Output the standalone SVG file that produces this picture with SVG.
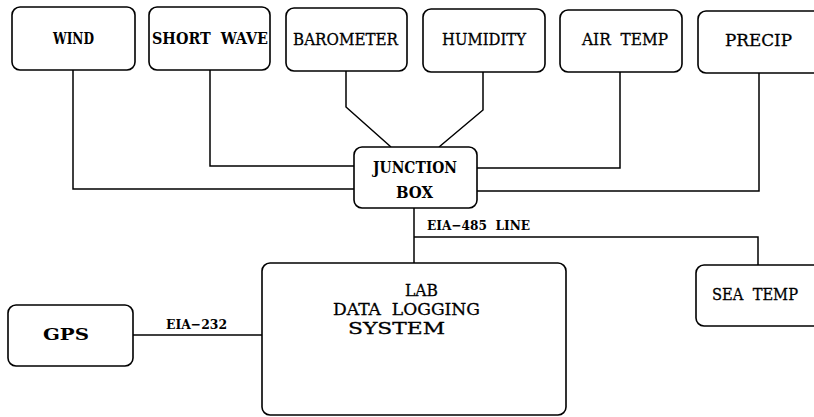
<svg xmlns="http://www.w3.org/2000/svg" width="814" height="417" viewBox="0 0 814 417">
<style>
rect{fill:#fff;stroke:#000;stroke-width:1.6}
.c{fill:none;stroke:#000;stroke-width:1.5}
text{font-family:"DejaVu Serif","Liberation Serif",serif;font-size:16.5px;fill:#000;stroke:#000;stroke-width:0.3;white-space:pre}
.b{font-weight:bold;font-size:16px;stroke-width:0}
.s{font-size:13px;font-weight:bold;stroke-width:0}
</style>
<rect x="0" y="0" width="814" height="417" style="stroke:none"/>
<g id="connectors">
<polyline class="c" points="73,70 73,189 354,189"/>
<polyline class="c" points="210,70 210,166 354,166"/>
<polyline class="c" points="346,71 346,107 391,147"/>
<polyline class="c" points="483,72 483,110 439,147"/>
<polyline class="c" points="620,72 620,168 477,168"/>
<polyline class="c" points="759,73 759,191 477,191"/>
<polyline class="c" points="414,208 414,263"/>
<polyline class="c" points="414,237 758,237 758,265"/>
<polyline class="c" points="133,335 262,335"/>
<text class="s" x="427" y="230" textLength="103" lengthAdjust="spacingAndGlyphs" xml:space="preserve">EIA−485  LINE</text>
<text class="s" x="166" y="329" textLength="61" lengthAdjust="spacingAndGlyphs">EIA−232</text>
</g>
<g id="wind"><rect x="12" y="7" width="123" height="63" rx="8"/><text class="b" x="53" y="43.5" textLength="41" lengthAdjust="spacingAndGlyphs">WIND</text></g>
<g id="shortwave"><rect x="149" y="7" width="121" height="63" rx="8"/><text class="b" x="152" y="44" textLength="116" lengthAdjust="spacingAndGlyphs" xml:space="preserve">SHORT  WAVE</text></g>
<g id="barometer"><rect x="286" y="8" width="121" height="63" rx="8"/><text x="293" y="45" textLength="105" lengthAdjust="spacingAndGlyphs">BAROMETER</text></g>
<g id="humidity"><rect x="423" y="9" width="122" height="63" rx="8"/><text x="442" y="45" textLength="84" lengthAdjust="spacingAndGlyphs">HUMIDITY</text></g>
<g id="airtemp"><rect x="560" y="10" width="122" height="62" rx="8"/><text x="582" y="45" textLength="86" lengthAdjust="spacingAndGlyphs" xml:space="preserve">AIR  TEMP</text></g>
<g id="precip"><rect x="698" y="11" width="125" height="62" rx="8"/><text x="725" y="46" textLength="67" lengthAdjust="spacingAndGlyphs">PRECIP</text></g>
<g id="junction"><rect x="354" y="147" width="123" height="61" rx="8"/><text class="b" x="373" y="173" textLength="84" lengthAdjust="spacingAndGlyphs">JUNCTION</text><text class="b" x="396" y="198" textLength="37" lengthAdjust="spacingAndGlyphs">BOX</text></g>
<g id="lab"><rect x="262" y="263" width="304" height="152" rx="8"/><text x="405" y="296" textLength="33" lengthAdjust="spacingAndGlyphs">LAB</text><text x="333" y="315" textLength="147" lengthAdjust="spacingAndGlyphs" xml:space="preserve">DATA  LOGGING</text><text x="348" y="334" textLength="97" lengthAdjust="spacingAndGlyphs">SYSTEM</text></g>
<g id="gps"><rect x="8" y="305" width="125" height="61" rx="8"/><text class="b" x="43" y="340" textLength="46" lengthAdjust="spacingAndGlyphs">GPS</text></g>
<g id="seatemp"><rect x="696" y="265" width="125" height="61" rx="8"/><text x="712" y="300" textLength="86" lengthAdjust="spacingAndGlyphs" xml:space="preserve">SEA  TEMP</text></g>
</svg>
